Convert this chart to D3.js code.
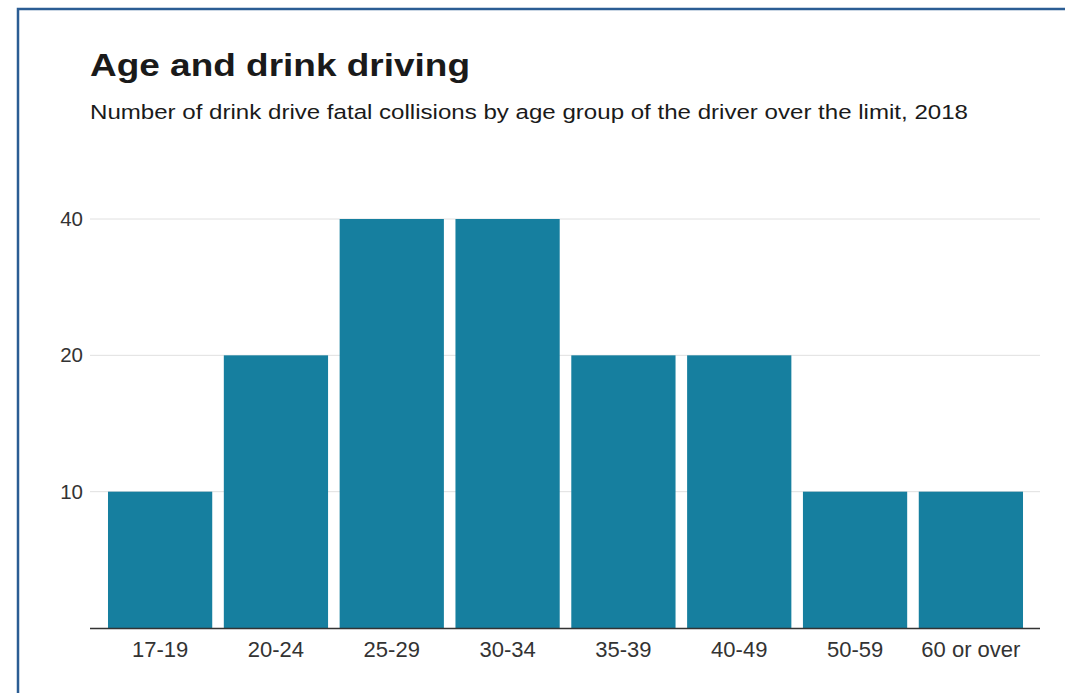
<!DOCTYPE html>
<html><head><meta charset="utf-8">
<script src="https://cdn.jsdelivr.net/npm/d3@7"></script>
<style>
html,body{margin:0;padding:0;background:#fff;}
svg{display:block;font-family:"Liberation Sans",Arial,sans-serif;}
</style></head><body>
<svg id="c" width="1065" height="693"></svg>
<script>
const categories = ["17-19","20-24","25-29","30-34","35-39","40-49","50-59","60 or over"];
const values = [10,20,40,40,20,20,10,10];
const yTicks = [10,20,40];
const title = "Age and drink driving";
const subtitle = "Number of drink drive fatal collisions by age group of the driver over the limit, 2018";

const svg = d3.select("#c");
// frame
svg.append("rect").attr("x",18).attr("y",9).attr("width",1100).attr("height",800)
  .attr("fill","none").attr("stroke","#2b5d94").attr("stroke-width",2.5);

svg.append("text").attr("x",90).attr("y",76).attr("font-size",32).attr("font-weight","bold")
  .attr("fill","#1a1a1a").attr("textLength",380).attr("lengthAdjust","spacingAndGlyphs").text(title);
svg.append("text").attr("x",90).attr("y",119).attr("font-size",20.5)
  .attr("fill","#1a1a1a").attr("textLength",878).attr("lengthAdjust","spacingAndGlyphs").text(subtitle);

const x = d3.scaleBand().domain(categories).range([102.2,1028.8]).paddingInner(0.1).paddingOuter(0.05);
const y = d3.scaleLog().domain([5,40]).range([628,219]);

// gridlines
svg.append("g").selectAll("line").data(yTicks).join("line")
  .attr("x1",90).attr("x2",1040).attr("y1",d=>y(d)).attr("y2",d=>y(d))
  .attr("stroke","#e0e0e0").attr("stroke-width",1);

// y axis labels
const yAxis = d3.axisLeft(y).tickValues(yTicks).tickFormat(d3.format("d")).tickSize(0).tickPadding(0);
const gy = svg.append("g").attr("transform","translate(83,0)").call(yAxis);
gy.select(".domain").remove();
gy.selectAll("text").attr("font-size",20.5).attr("fill","#333").attr("font-family","Liberation Sans, Arial, sans-serif");

// bars
svg.append("g").selectAll("rect").data(values).join("rect")
  .attr("x",(d,i)=>x(categories[i])).attr("width",x.bandwidth())
  .attr("y",d=>y(d)).attr("height",d=>y(5)-y(d)).attr("fill","#167f9f");

// baseline
svg.append("line").attr("x1",90).attr("x2",1040).attr("y1",628.5).attr("y2",628.5)
  .attr("stroke","#333").attr("stroke-width",1.5);

// x axis labels
const xAxis = d3.axisBottom(x).tickSize(0).tickPadding(0);
const gx = svg.append("g").attr("transform","translate(0,641)").call(xAxis);
gx.select(".domain").remove();
gx.selectAll("text").attr("font-size",22).attr("fill","#333").attr("font-family","Liberation Sans, Arial, sans-serif");
</script>
</body></html>
